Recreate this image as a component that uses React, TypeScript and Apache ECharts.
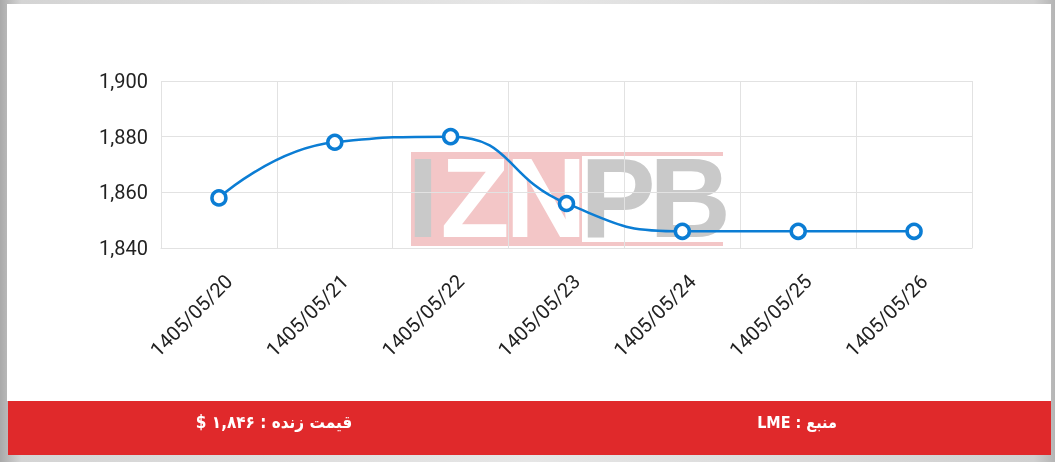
import React, { useEffect, useRef } from "react";
import * as echarts from "echarts";

const categories = [
  "1405/05/20",
  "1405/05/21",
  "1405/05/22",
  "1405/05/23",
  "1405/05/24",
  "1405/05/25",
  "1405/05/26",
];
const prices = [1858, 1878, 1880, 1856, 1846, 1846, 1846];
const yMin = 1840;
const yMax = 1900;
const yStep = 20;
const liveLabel = "قیمت زنده : ۱,۸۴۶ $";
const sourceLabel = "منبع : LME";
const watermarkLetters = ["I", "Z", "N", "P", "B"];

export default function App() {
  const ref = useRef<HTMLDivElement>(null);

  useEffect(() => {
    if (!ref.current) return;
    const chart = echarts.init(ref.current, null, { renderer: "svg" });
    const grey = "#c9c9c9";
    const pink = "#f3c6c7";
    const letterX = [423, 475, 546, 618, 690];
    const letterFill = [grey, "#ffffff", "#ffffff", grey, grey];

    const option: any = {
      animation: false,
      backgroundColor: "transparent",
      grid: { left: 161, right: 83, top: 81, bottom: 214 },
      graphic: {
        elements: [
          {
            type: "rect",
            z: -10,
            shape: { x: 0, y: 0, width: 1055, height: 462 },
            style: {
              fill: new echarts.graphic.LinearGradient(0, 0, 1, 0, [
                { offset: 0, color: "#a9a9a9" },
                { offset: 0.02, color: "#d4d4d4" },
                { offset: 0.5, color: "#e6e6e6" },
                { offset: 0.98, color: "#d0d0d0" },
                { offset: 1, color: "#b5b5b5" },
              ]),
            },
          },
          {
            type: "rect",
            z: -9,
            shape: { x: 7, y: 4, width: 1044, height: 397 },
            style: { fill: "#ffffff" },
          },
          {
            type: "rect",
            z: -9,
            shape: { x: 8, y: 401, width: 1043, height: 54 },
            style: { fill: "#e0292b" },
          },
          {
            type: "text",
            z: 5,
            style: {
              x: 274,
              y: 422,
              text: "\u202B" + liveLabel + "\u202C",
              fill: "#ffffff",
              font: 'bold 17px "DejaVu Sans Condensed", "DejaVu Sans", sans-serif',
              textAlign: "center",
              textVerticalAlign: "middle",
            },
          },
          {
            type: "text",
            z: 5,
            style: {
              x: 797,
              y: 422,
              text: "\u202B" + sourceLabel + "\u202C",
              fill: "#ffffff",
              font: 'bold 16px "DejaVu Sans Condensed", "DejaVu Sans", sans-serif',
              textAlign: "center",
              textVerticalAlign: "middle",
            },
          },
          {
            type: "rect",
            z: -2,
            shape: { x: 411, y: 152, width: 171, height: 94 },
            style: { fill: pink },
          },
          {
            type: "rect",
            z: -2,
            shape: { x: 411, y: 152, width: 312, height: 4 },
            style: { fill: pink },
          },
          {
            type: "rect",
            z: -2,
            shape: { x: 411, y: 242, width: 312, height: 4 },
            style: { fill: pink },
          },
          ...watermarkLetters.map((ch, i) => ({
            type: "text",
            z: -1,
            style: {
              x: letterX[i],
              y: 198,
              text: ch,
              fill: letterFill[i],
              font: 'bold 113px "Liberation Sans", Arial, sans-serif',
              textAlign: "center",
              textVerticalAlign: "middle",
            },
          })),
        ],
      },
      xAxis: {
        type: "category",
        data: categories,
        boundaryGap: true,
        axisLine: { show: true, lineStyle: { color: "#e2e2e2", width: 1 } },
        axisTick: { show: false },
        splitLine: { show: true, lineStyle: { color: "#e2e2e2", width: 1 } },
        axisLabel: {
          rotate: 45,
          interval: 0,
          margin: 20,
          verticalAlign: "top",
          lineHeight: 28,
          color: "#222222",
          fontFamily: "Roboto",
          fontSize: 20,
        },
      },
      yAxis: {
        type: "value",
        min: yMin,
        max: yMax,
        interval: yStep,
        axisLine: { show: false },
        axisTick: { show: false },
        splitLine: { show: true, lineStyle: { color: "#e2e2e2", width: 1 } },
        axisLabel: {
          margin: 13,
          color: "#222222",
          fontFamily: "Roboto",
          fontSize: 20,
          formatter: (v: number) => v.toLocaleString("en-US"),
        },
      },
      series: [
        {
          type: "line",
          data: prices,
          smooth: 0.5,
          symbol: "circle",
          symbolSize: 14,
          showSymbol: true,
          lineStyle: { color: "#0b7dd4", width: 2.5 },
          itemStyle: { color: "#ffffff", borderColor: "#0b7dd4", borderWidth: 3.5 },
          z: 3,
        },
      ],
    };
    chart.setOption(option);
    return () => chart.dispose();
  }, []);

  return (
    <div
      ref={ref}
      style={{ position: "fixed", left: 0, top: 0, width: 1055, height: 462 }}
    />
  );
}
